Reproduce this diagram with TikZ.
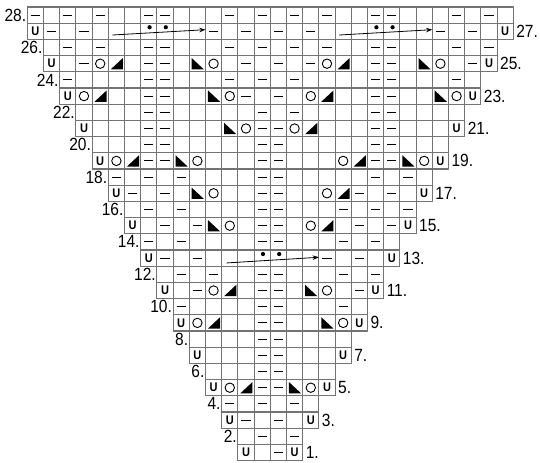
\documentclass[tikz,border=0pt]{standalone}
\usepackage{fontspec}
\setmainfont[FakeStretch=0.88]{Liberation Sans}
\usetikzlibrary{arrows.meta}
\begin{document}
\begin{tikzpicture}[x=5mm,y=5mm,line join=round,>={Stealth[length=5.5pt,width=4pt]},
		cell/.style={draw=black!55,line width=1pt},
		purl/.style={line width=1pt},
		yo/.style={line width=0.8pt},
		ustitch/.style={font=\fontsize{11}{11}\selectfont\bfseries,inner sep=0pt},
		rowno/.style={font=\fontsize{15.5}{16}\selectfont,inner sep=0pt}]
	\useasboundingbox (-1.685,-0.142) rectangle (31.65,28.432);
	
	\foreach \r in {1,...,28}{
		\pgfmathtruncatemacro{\k}{(\r+1)/2}
		\draw[cell,step=1] (14-\k,\r-1) grid (16+\k,\r);
		\draw[cell] (14-\k,\r-1) rectangle (16+\k,\r);
	}
	
	\foreach \r/\cols in {1/{16},2/{15,17},3/{14,16},4/{13,15,17},5/{15,16},6/{15,16},7/{15,16},
		8/{15,16},9/{15,16},10/{10,15,16,20},11/{11,15,16,21},12/{10,12,15,16,20,22},
		13/{9,11,19,21},14/{8,10,15,16,20,22},15/{9,11,15,16,21,23},16/{8,10,15,16,20,22,24},
		17/{7,9,15,16,21,23},18/{6,8,10,15,16,22,24},19/{8,9,15,16,22,23},20/{8,9,15,16,22,23},
		21/{8,9,15,16,22,23},22/{8,9,15,17,22,23},23/{8,9,14,16,22,23},
		24/{3,8,9,13,15,17,22,23,27},25/{4,8,9,14,16,18,22,23,28},
		26/{3,5,8,9,13,15,17,19,22,23,27,29},27/{2,4,12,14,16,18,26,28},
		28/{1,3,5,8,9,13,15,17,19,22,23,27,29}}
		\foreach \c in \cols
			\draw[purl] (\c-0.78,\r-0.5) -- (\c-0.22,\r-0.5);
	
	\foreach \c/\r in {13/5,18/5,11/9,20/9,12/11,19/11,13/15,18/15,12/17,19/17,6/19,11/19,20/19,25/19,
		14/21,17/21,4/23,13/23,18/23,27/23,5/25,12/25,19/25,26/25}
		\draw[yo] (\c-0.5,\r-0.5) circle (0.29);
	
	\foreach \c/\r in {14/5,12/9,13/11,19/15,20/17,7/19,21/19,18/21,5/23,19/23,6/25,20/25}
		\fill (\c-0.85,\r-0.85) -- (\c-0.1,\r-0.85) -- (\c-0.1,\r-0.15) -- cycle;
	\foreach \c/\r in {17/5,19/9,18/11,12/15,11/17,10/19,24/19,13/21,12/23,26/23,11/25,25/25}
		\fill (\c-0.85,\r-0.15) -- (\c-0.85,\r-0.85) -- (\c-0.1,\r-0.85) -- cycle;
	
	\foreach \c/\r in {15/13,16/13,8/27,9/27,22/27,23/27}
		\fill (\c-0.45,\r-0.25) circle (0.13);
	
	\coordinate (s1) at (5.25,26.27);
	\coordinate (e1) at (11,26.6);
	\coordinate (s2) at (19.25,26.27);
	\coordinate (e2) at (25,26.6);
	\coordinate (s3) at (12.3,12.2);
	\coordinate (e3) at (18,12.55);
	\foreach \p in {1,2,3}
		\draw[->,line width=0.7pt] (s\p) -- (e\p);
	
	\foreach \r in {1,3,...,27}{
		\path (14-\r/2,\r-0.5) node[ustitch] {U};
		\path (16+\r/2,\r-0.5) node[ustitch] {U};
	}
	
	\foreach \r in {2,4,...,28}
		\path (14-\r/2,\r-0.5) node[rowno,anchor=east,xshift=-0.8pt] {\r.};
	\foreach \r in {1,3,...,27}
		\path (16.5+\r/2,\r-0.5) node[rowno,anchor=west,xshift=2.5pt] {\r.};
\end{tikzpicture}
\end{document}
